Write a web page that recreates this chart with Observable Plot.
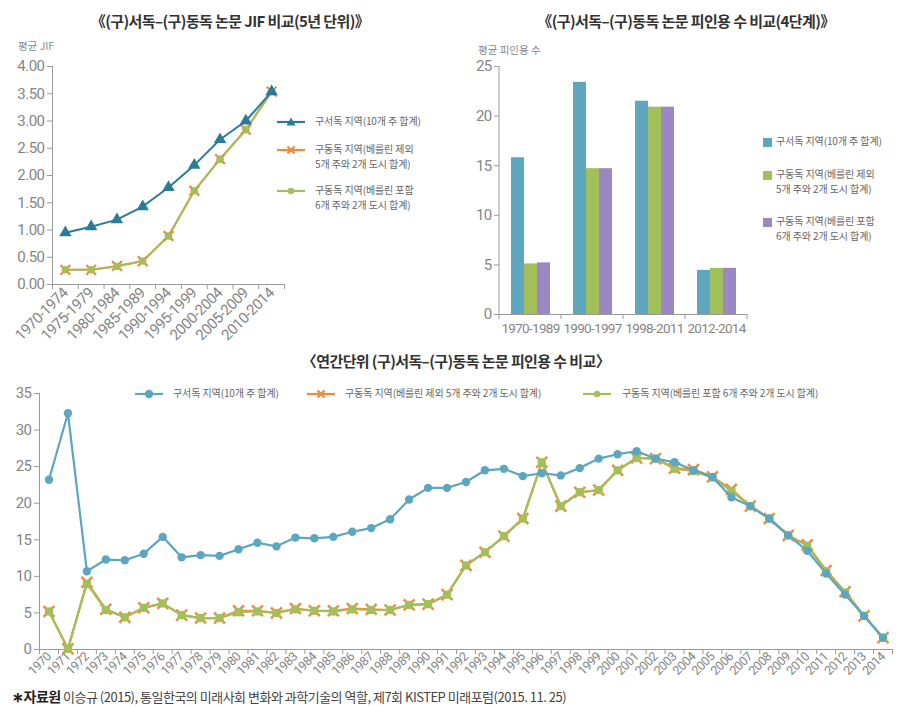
<!DOCTYPE html>
<html><head><meta charset="utf-8">
<script src="https://cdn.jsdelivr.net/npm/d3@7"></script>
<script src="https://cdn.jsdelivr.net/npm/@observablehq/plot@0.6"></script>
<style>
body{margin:0;background:#fff;}
#root{position:relative;width:908px;height:707px;font-family:"Noto Sans CJK KR",sans-serif;overflow:hidden;background:#fff}
.title{position:absolute;font-weight:bold;font-size:15px;letter-spacing:-0.6px;color:#333;white-space:nowrap;transform:translate(-50%,-50%)}
.lg{position:absolute;font-size:10px;letter-spacing:-0.1px;color:#666;line-height:14.6px;white-space:nowrap}
.ylab{position:absolute;font-size:10.5px;color:#888;white-space:nowrap}
.foot{position:absolute;font-size:13px;letter-spacing:-0.5px;color:#444;white-space:nowrap}
.sw{position:absolute}
</style></head>
<body><div id="root"></div>
<script>
// ---------- data ----------
const S1 = "구서독 지역(10개 주 합계)";
const S2 = "구동독 지역(베를린 제외 5개 주와 2개 도시 합계)";
const S3 = "구동독 지역(베를린 포함 6개 주와 2개 도시 합계)";

const periods5 = ["1970-1974","1975-1979","1980-1984","1985-1989","1990-1994","1995-1999","2000-2004","2005-2009","2010-2014"];
const jifWest      = [0.95,1.06,1.19,1.43,1.78,2.19,2.66,3.00,3.54];
const jifEastExBer = [0.27,0.27,0.34,0.43,0.89,1.72,2.30,2.84,3.54];
const jifEastInBer = [0.27,0.27,0.33,0.43,0.89,1.72,2.30,2.84,3.54];
const jifTicks = [0,0.5,1,1.5,2,2.5,3,3.5,4];

const stages = ["1970-1989","1990-1997","1998-2011","2012-2014"];
const citeWest      = [15.8,23.4,21.5,4.45];
const citeEastExBer = [5.1,14.7,20.9,4.65];
const citeEastInBer = [5.2,14.7,20.9,4.65];
const citeTicks = [0,5,10,15,20,25];

const years = [1970,1971,1972,1973,1974,1975,1976,1977,1978,1979,1980,1981,1982,1983,1984,1985,1986,1987,1988,1989,1990,1991,1992,1993,1994,1995,1996,1997,1998,1999,2000,2001,2002,2003,2004,2005,2006,2007,2008,2009,2010,2011,2012,2013,2014];
const yrWest      = [23.2,32.3,10.7,12.3,12.2,13.1,15.4,12.6,12.9,12.8,13.7,14.6,14.1,15.3,15.2,15.4,16.1,16.6,17.8,20.5,22.1,22.1,22.9,24.5,24.7,23.7,24.1,23.8,24.8,26.1,26.7,27.1,26.1,25.6,24.5,23.6,20.8,19.6,17.9,15.6,13.5,10.4,7.5,4.6,1.6];
const yrEastExBer = [5.2,0.1,9.2,5.5,4.4,5.7,6.3,4.7,4.3,4.3,5.3,5.3,5.0,5.6,5.3,5.3,5.6,5.5,5.4,6.1,6.2,7.5,11.5,13.3,15.5,17.9,25.6,19.6,21.5,21.8,24.5,26.2,26.1,24.8,24.6,23.6,21.9,19.6,17.9,15.6,14.3,10.8,7.9,4.6,1.6];
const yrEastInBer = [5.2,0.1,9.0,5.4,4.4,5.7,6.3,4.7,4.3,4.3,5.1,5.2,5.0,5.5,5.3,5.2,5.5,5.4,5.4,6.1,6.2,7.5,11.5,13.3,15.5,17.9,25.6,19.6,21.5,21.8,24.5,26.2,26.1,24.7,24.4,23.5,21.7,19.6,17.9,15.6,14.2,10.7,7.8,4.6,1.6];
const yrTicks = [0,5,10,15,20,25,30,35];

// ---------- styles ----------
const NUMFONT = "Roboto,'Noto Sans CJK KR',sans-serif";
const C = {
  westDark:"#2a7b98", westLight:"#5ca6c1", orange:"#f08a3c", green:"#a3be5a",
  barBlue:"#5fa6bf", barGreen:"#a2bf5a", barPurple:"#9a87c4", axis:"#9a9a9a", tick:"#858585"
};
const root = document.getElementById("root");
function put(el, left, top){ el.style.position="absolute"; el.style.left=left+"px"; el.style.top=top+"px"; root.appendChild(el); return el; }
function div(cls, html, left, top){ const d=document.createElement("div"); d.className=cls; d.innerHTML=html; return put(d,left,top); }
const baseStyle = {fontFamily:NUMFONT, fontSize:"15px", color:C.tick, background:"transparent", overflow:"visible", letterSpacing:"-0.5px"};

// ---------- titles / labels ----------
div("title","《(구)서독–(구)동독 논문 JIF 비교(5년 단위)》",230,20);
div("title","《(구)서독–(구)동독 논문 피인용 수 비교(4단계)》",686,20);
div("title","〈연간단위 (구)서독–(구)동독 논문 피인용 수 비교〉",456,360);
div("ylab","평균 JIF",18,38);
div("ylab","평균 피인용 수",478,42);
div("foot","<b style='font-size:14px;color:#222'>∗자료원</b> 이승규 (2015), 통일한국의 미래사회 변화와 과학기술의 역할, 제7회 KISTEP 미래포럼(2015. 11. 25)",12,686);

// ---------- chart 1: JIF by 5-year period ----------
const idx = periods5.map((p,i)=>i);
const jif1 = idx.map(i=>({i, v:jifWest[i]}));
const jif2 = idx.map(i=>({i, v:jifEastExBer[i]}));
const jif3 = idx.map(i=>({i, v:jifEastInBer[i]}));
const chart1 = Plot.plot({
  width:300, height:300, marginLeft:52, marginRight:16, marginTop:26, marginBottom:56,
  style: baseStyle,
  x:{type:"linear", domain:[-0.5, periods5.length-0.5], axis:null},
  y:{domain:[0,4], axis:null},
  marks:[
    Plot.ruleX([-0.5],{stroke:C.axis}),
    Plot.ruleY([0],{stroke:C.axis}),
    Plot.axisY(jifTicks,{tickSize:5, tickPadding:3, stroke:C.axis, fill:C.tick, fontSize:15, tickFormat:d=>d.toFixed(2), label:null}),
    Plot.axisX(idx.map(i=>i-0.5).concat([periods5.length-0.5]),{tickSize:5, stroke:C.axis, tickFormat:()=>"", label:null}),
    Plot.axisX(idx,{tickSize:0, tickPadding:6, tickRotate:-45, fill:C.tick, fontSize:15, tickFormat:i=>periods5[i], label:null}),
    Plot.line(jif2,{x:"i", y:"v", stroke:C.orange, strokeWidth:2}),
    Plot.line(jif3,{x:"i", y:"v", stroke:C.green, strokeWidth:2}),
    Plot.dot(jif2,{x:"i", y:"v", symbol:"times", r:4.5, stroke:C.orange, strokeWidth:2.2}),
    Plot.dot(jif3,{x:"i", y:"v", symbol:"circle", r:3.8, fill:C.green}),
    Plot.line(jif1,{x:"i", y:"v", stroke:C.westDark, strokeWidth:2}),
    Plot.dot(jif1,{x:"i", y:"v", symbol:"triangle", r:4.6, fill:C.westDark})
  ]
});
put(chart1,0,40);

// ---------- chart 2: citations by 4 stages ----------
const barRows = stages.flatMap((st,i)=>[
  {stage:st, s:S1, v:citeWest[i]},
  {stage:st, s:S2, v:citeEastExBer[i]},
  {stage:st, s:S3, v:citeEastInBer[i]}
]);
const chart2 = Plot.plot({
  width:300, height:300, marginLeft:39, marginRight:13, marginTop:26, marginBottom:26,
  style: baseStyle,
  fx:{domain:stages, padding:0, axis:null},
  x:{domain:[S1,S2,S3], paddingInner:0, paddingOuter:0.77, axis:null},
  y:{domain:[0,25], axis:null},
  color:{domain:[S1,S2,S3], range:[C.barBlue,C.barGreen,C.barPurple]},
  marks:[
    Plot.barY(barRows,{fx:"stage", x:"s", y:"v", fill:"s"}),
    Plot.ruleY([0],{stroke:C.axis}),
    Plot.axisY(citeTicks,{tickSize:5, tickPadding:3, stroke:C.axis, fill:C.tick, fontSize:15, label:null}),
    Plot.axisFx({tickSize:0, tickPadding:9, fill:C.tick, fontSize:13.5, label:null, anchor:"bottom"})
  ]
});
{
  const fx = chart2.scale("fx"), y = chart2.scale("y");
  const svg = chart2.tagName.toLowerCase()==="svg" ? chart2 : chart2.querySelector("svg");
  const g = d3.select(svg).append("g").attr("stroke",C.axis);
  const x0 = fx.apply(stages[0]);
  g.append("line").attr("x1",x0).attr("x2",x0).attr("y1",y.apply(0)).attr("y2",y.apply(25));
  const bounds = stages.map(s=>fx.apply(s)).concat([fx.apply(stages[stages.length-1])+fx.bandwidth]);
  bounds.forEach(b=>g.append("line").attr("x1",b).attr("x2",b).attr("y1",y.apply(0)).attr("y2",y.apply(0)+5));
  d3.select(svg).selectAll("text").style("letter-spacing","-0.7px");
}
put(chart2,460,40);

// ---------- chart 3: annual citations ----------
const yr1 = years.map((y,i)=>({y, v:yrWest[i]}));
const yr2 = years.map((y,i)=>({y, v:yrEastExBer[i]}));
const yr3 = years.map((y,i)=>({y, v:yrEastInBer[i]}));
const chart3 = Plot.plot({
  width:908, height:305, marginLeft:39, marginRight:16, marginTop:13, marginBottom:36,
  style: baseStyle,
  x:{type:"linear", domain:[years[0]-0.5, years[years.length-1]+0.5], axis:null},
  y:{domain:[0,35], axis:null},
  marks:[
    Plot.ruleX([years[0]-0.5],{stroke:C.axis}),
    Plot.ruleY([0],{stroke:C.axis}),
    Plot.axisY(yrTicks,{tickSize:5, tickPadding:3, stroke:C.axis, fill:C.tick, fontSize:15, label:null}),
    Plot.axisX(years.map(y=>y-0.5).concat([years[years.length-1]+0.5]),{tickSize:5, stroke:C.axis, tickFormat:()=>"", label:null}),
    Plot.axisX(years,{tickSize:0, tickPadding:5, tickRotate:-45, fill:C.tick, fontSize:12.5, tickFormat:d=>String(d), label:null}),
    Plot.line(yr2,{x:"y", y:"v", stroke:C.orange, strokeWidth:2.2}),
    Plot.dot(yr2,{x:"y", y:"v", symbol:"times", r:5, stroke:C.orange, strokeWidth:2.5}),
    Plot.line(yr3,{x:"y", y:"v", stroke:C.green, strokeWidth:2.2}),
    Plot.dot(yr3,{x:"y", y:"v", symbol:"square", r:4.6, fill:C.green}),
    Plot.line(yr1,{x:"y", y:"v", stroke:C.westLight, strokeWidth:2.2}),
    Plot.dot(yr1,{x:"y", y:"v", symbol:"circle", r:4.2, fill:C.westLight})
  ]
});
put(chart3,0,380);

// ---------- legends ----------
function swatchLine(color, marker, left, top){
  const ns="http://www.w3.org/2000/svg";
  const s=document.createElementNS(ns,"svg"); s.setAttribute("width",30); s.setAttribute("height",12);
  const l=document.createElementNS(ns,"line"); l.setAttribute("x1",1); l.setAttribute("x2",29); l.setAttribute("y1",6); l.setAttribute("y2",6);
  l.setAttribute("stroke",color); l.setAttribute("stroke-width",2.2); s.appendChild(l);
  let m;
  if(marker==="triangle"){ m=document.createElementNS(ns,"path"); m.setAttribute("d","M15,1.5L19.5,9.5L10.5,9.5Z"); m.setAttribute("fill",color); }
  else if(marker==="times"){ m=document.createElementNS(ns,"path"); m.setAttribute("d","M11.5,2.5L18.5,9.5M18.5,2.5L11.5,9.5"); m.setAttribute("stroke",color); m.setAttribute("stroke-width",2.2); }
  else { m=document.createElementNS(ns,"circle"); m.setAttribute("cx",15); m.setAttribute("cy",6); m.setAttribute("r",marker==="small"?3.2:4.2); m.setAttribute("fill",color); }
  s.appendChild(m);
  s.setAttribute("class","sw"); return put(s,left,top-6);
}
function swatchBox(color,left,top){ const d=document.createElement("div"); d.style.width="9px"; d.style.height="9px"; d.style.background=color; return put(d,left,top-4.5); }

// chart 1 legend
swatchLine(C.westDark,"triangle",276,122); div("lg",S1,315,114);
swatchLine(C.orange,"times",276,150); div("lg","구동독 지역(베를린 제외<br>5개 주와 2개 도시 합계)",315,142);
swatchLine(C.green,"small",276,191); div("lg","구동독 지역(베를린 포함<br>6개 주와 2개 도시 합계)",315,183);

// chart 2 legend
swatchBox(C.barBlue,763,142); div("lg",S1,776,134);
swatchBox(C.barGreen,763,175); div("lg","구동독 지역(베를린 제외<br>5개 주와 2개 도시 합계)",776,167);
swatchBox(C.barPurple,763,222); div("lg","구동독 지역(베를린 포함<br>6개 주와 2개 도시 합계)",776,214);

// chart 3 legend
swatchLine(C.westLight,"circle",134,394); div("lg",S1,173,386);
swatchLine(C.orange,"times",306,394); div("lg",S2,345,386);
swatchLine(C.green,"small",582,394); div("lg",S3,622,386);
</script>
</body></html>
